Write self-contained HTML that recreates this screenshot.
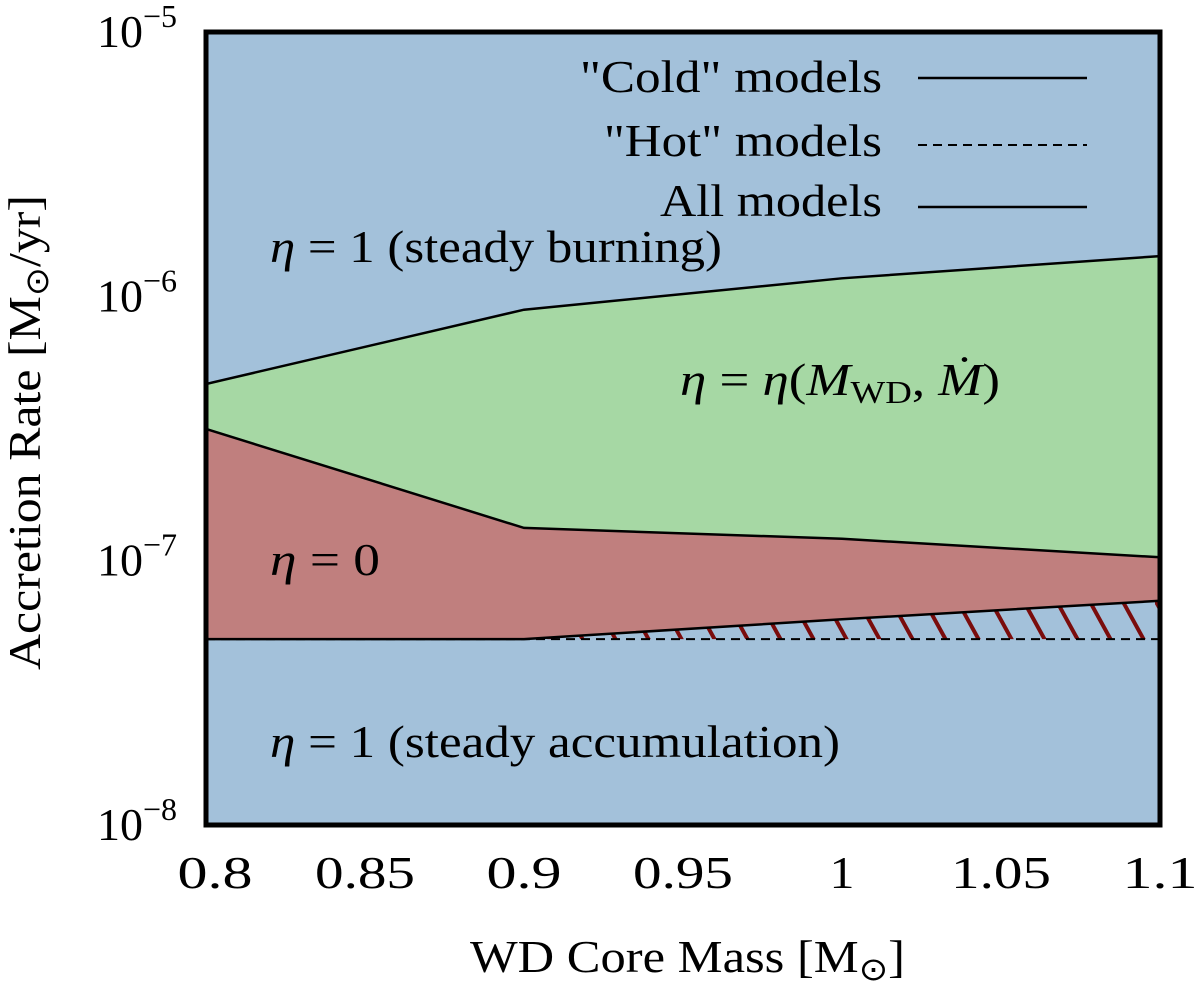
<!DOCTYPE html>
<html><head><meta charset="utf-8"><style>
body{margin:0;background:#fff}
svg text{font-family:"Liberation Serif",serif;fill:#000}
</style></head><body>
<svg width="1200" height="986" viewBox="0 0 1200 986" xmlns="http://www.w3.org/2000/svg" id="svg">
<defs>
<pattern id="hatch" patternUnits="userSpaceOnUse" width="33" height="60">
<line x1="0" y1="0" x2="33" y2="60" stroke="#7a0c0c" stroke-width="4"/>
</pattern>
<clipPath id="plotclip"><rect x="206" y="32" width="954" height="793"/></clipPath>
</defs>
<g id="plot" clip-path="url(#plotclip)"></g>
<rect x="206" y="32" width="954" height="793" fill="none" stroke="#000" stroke-width="5"/>
<g id="axes"></g>
<g>
<text x="580" y="92" font-size="46" textLength="302" lengthAdjust="spacingAndGlyphs">"Cold" models</text>
<line x1="918" y1="78" x2="1087" y2="78" stroke="#000" stroke-width="2.5"/>
<text x="604" y="156" font-size="46" textLength="278" lengthAdjust="spacingAndGlyphs">"Hot" models</text>
<line x1="918" y1="145" x2="1087" y2="145" stroke="#000" stroke-width="2" stroke-dasharray="9,6"/>
<text x="660" y="216" font-size="46" textLength="222" lengthAdjust="spacingAndGlyphs">All models</text>
<line x1="918" y1="207" x2="1087" y2="207" stroke="#000" stroke-width="2.5"/>
</g>
<text x="270" y="262" font-size="46" textLength="452" lengthAdjust="spacingAndGlyphs"><tspan font-style="italic">η</tspan> = 1 (steady burning)</text>
<text x="680" y="395" font-size="46" textLength="320" lengthAdjust="spacingAndGlyphs"><tspan font-style="italic">η</tspan> = <tspan font-style="italic">η</tspan>(<tspan font-style="italic">M</tspan><tspan font-size="32" dy="8">WD</tspan><tspan dy="-8">, </tspan><tspan font-style="italic">Ṁ</tspan>)</text>
<text x="270" y="575" font-size="46" textLength="110" lengthAdjust="spacingAndGlyphs"><tspan font-style="italic">η</tspan> = 0</text>
<text x="270" y="757" font-size="46" textLength="570" lengthAdjust="spacingAndGlyphs"><tspan font-style="italic">η</tspan> = 1 (steady accumulation)</text>
<text x="470" y="972" font-size="46" textLength="435" lengthAdjust="spacingAndGlyphs">WD Core Mass [M<tspan font-size="32" dy="8">⊙</tspan><tspan dy="-8">]</tspan></text>
<text transform="translate(40,670) rotate(-90)" font-size="46" textLength="475" lengthAdjust="spacingAndGlyphs">Accretion Rate [M<tspan font-size="32" dy="8">⊙</tspan><tspan dy="-8">/yr]</tspan></text>
</svg>
<script>
const masses=[0.8,0.9,1.0,1.1];
const upperBoundary=[4.66e-7,8.9e-7,1.17e-6,1.42e-6];
const middleBoundary=[3.15e-7,1.33e-7,1.21e-7,1.03e-7];
const coldLower=[5.05e-8,5.05e-8,6.0e-8,7.05e-8];
const hotLower=[5.05e-8,5.05e-8,5.05e-8,5.05e-8];
const xTicks=[0.8,0.85,0.9,0.95,1,1.05,1.1];
const xTickLabels=["0.8","0.85","0.9","0.95","1","1.05","1.1"];
const yTicks=[-8,-7,-6,-5];

const X0=206,X1=1160,Y0=825,Y1=32;
const xs=m=>X0+(m-0.8)/0.3*(X1-X0);
const ys=v=>Y0-(Math.log10(v)+8)/3*(Y0-Y1);
const NS="http://www.w3.org/2000/svg";
const plot=document.getElementById('plot'),axes=document.getElementById('axes');
function mk(tag,attrs,parent){const e=document.createElementNS(NS,tag);for(const k in attrs)e.setAttribute(k,attrs[k]);parent.appendChild(e);return e;}
const pts=a=>a.map((v,i)=>xs(masses[i])+','+ys(v));
const rev=a=>pts(a).reverse();
let e;
e=mk('rect',{x:X0,y:Y1,width:X1-X0,height:Y0-Y1,fill:'#a3c1da'},plot);


e=mk('polygon',{points:pts(upperBoundary).concat(rev(middleBoundary)).join(' '),fill:'#a6d8a4'},plot);


e=mk('polygon',{points:pts(middleBoundary).concat(rev(coldLower)).join(' '),fill:'#c07f7e'},plot);


e=mk('polygon',{points:pts(coldLower).concat(rev(hotLower)).join(' '),fill:'url(#hatch)'},plot);


e=mk('polyline',{points:pts(upperBoundary).join(' '),fill:'none',stroke:'#000','stroke-width':2.5},plot);


e=mk('polyline',{points:pts(middleBoundary).join(' '),fill:'none',stroke:'#000','stroke-width':2.5},plot);


e=mk('polyline',{points:pts(hotLower).join(' '),fill:'none',stroke:'#000','stroke-width':2,'stroke-dasharray':'9,6'},plot);


e=mk('polyline',{points:pts(coldLower).join(' '),fill:'none',stroke:'#000','stroke-width':2.5},plot);


xTicks.forEach((t,i)=>{
  const x=xs(t);
  const lbl=xTickLabels[i];
  e=mk('text',{x:x+(i===0?9:0),y:888,'font-size':46,'text-anchor':'middle',textLength:lbl.length*25,lengthAdjust:'spacingAndGlyphs'},axes);
  e.textContent=lbl;
  
  
});
yTicks.forEach(p=>{
  const y=ys(Math.pow(10,p));
  e=mk('text',{x:97,y:y+15,'font-size':46},axes);
  
  
  e.innerHTML='10<tspan font-size="32" dy="-20">−'+(-p)+'</tspan>';
});
</script>
</body></html>
